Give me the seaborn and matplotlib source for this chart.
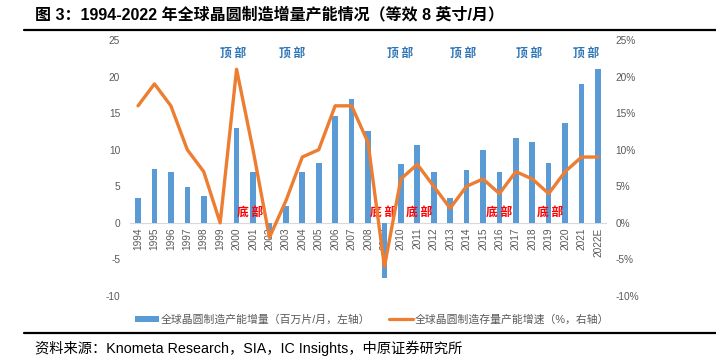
import numpy as np
import pandas as pd
import matplotlib
matplotlib.use("Agg")
import matplotlib.pyplot as plt
from matplotlib.lines import Line2D
from matplotlib.patches import Patch
import seaborn as sns

# ---------------- data ----------------
years = ['1994', '1995', '1996', '1997', '1998', '1999', '2000', '2001', '2002',
         '2003', '2004', '2005', '2006', '2007', '2008', '2009', '2010', '2011',
         '2012', '2013', '2014', '2015', '2016', '2017', '2018', '2019', '2020',
         '2021', '2022E']
capacity_increment = [3.4, 7.3, 7.0, 4.9, 3.7, 0.0, 13.0, 7.0, -1.5, 2.3, 6.9, 8.2,
                      14.6, 17.0, 12.6, -7.5, 8.1, 10.7, 6.9, 3.4, 7.2, 10.0, 6.9,
                      11.6, 11.1, 8.2, 13.7, 19.0, 21.0]
capacity_growth = [16, 19, 16, 10, 7, 0, 21, 10, -2, 3, 9, 10, 16, 16, 11, -6, 6, 8,
                   5, 2, 5, 6, 4, 7, 6, 4, 7, 9, 9]
left_ticks = [-10, -5, 0, 5, 10, 15, 20, 25]
right_ticks = [-10, -5, 0, 5, 10, 15, 20, 25]

bar_label = '全球晶圆制造产能增量（百万片/月，左轴）'
line_label = '全球晶圆制造存量产能增速（%，右轴）'
title = '图 3：1994-2022 年全球晶圆制造增量产能情况（等效 8 英寸/月）'
source = '资料来源：Knometa Research，SIA，IC Insights，中原证券研究所'
peak_text = '顶 部'
trough_text = '底 部'

# annotation anchor positions (category index, value)
peak_notes = [5.78, 9.4, 15.93, 19.8, 23.8, 27.3]
trough_notes = [6.85, 14.9, 17.1, 22.0, 25.1]

# ---------------- style ----------------
sns.set_theme(style="white")
plt.rcParams['font.family'] = ['Liberation Sans', 'Noto Sans CJK SC']
plt.rcParams['axes.unicode_minus'] = False

BLUE = '#5B9BD5'
ORANGE = '#ED7D31'
GREY = '#595959'

fig = plt.figure(figsize=(7.16, 3.56), dpi=100)
W, H = 716, 356
ax_left, ax_right, ax_top, ax_bot = 129.8, 606.2, 40.0, 296.0
ax = fig.add_axes([ax_left / W, (H - ax_bot) / H, (ax_right - ax_left) / W,
                   (ax_bot - ax_top) / H])

df = pd.DataFrame({'year': years, 'inc': capacity_increment, 'growth': capacity_growth})
df['pos'] = np.arange(len(df))

sns.barplot(data=df, x='year', y='inc', ax=ax, color=BLUE, saturation=1,
            width=0.34, linewidth=0)
ax.set_xlim(-0.5, len(years) - 0.5)
ax.set_ylim(-10, 25)
ax.set_yticks(left_ticks)
ax.set_yticklabels([str(t) for t in left_ticks])
ax.set_xlabel('')
ax.set_ylabel('')

ax2 = ax.twinx()
sns.lineplot(data=df, x='pos', y='growth', ax=ax2, color=ORANGE, linewidth=2.4,
             sort=False, solid_joinstyle='round', solid_capstyle='round')
ax2.set_ylim(-10, 25)
ax2.set_yticks(right_ticks)
ax2.set_yticklabels([f'{t}%' for t in right_ticks])
ax2.set_xlim(-0.5, len(years) - 0.5)
ax2.set_xlabel('')
ax2.set_ylabel('')

for a in (ax, ax2):
    for s in ['top', 'left', 'right']:
        a.spines[s].set_visible(False)
    a.grid(False)
    a.patch.set_visible(False)
ax2.spines['bottom'].set_visible(False)
ax.spines['bottom'].set_position(('data', 0))
ax.spines['bottom'].set_color('#D9D9D9')
ax.spines['bottom'].set_linewidth(0.8)
ax.spines['bottom'].set_zorder(0)

ax.tick_params(axis='x', length=0, pad=3.5, labelsize=7.3, labelcolor=GREY, rotation=90)
ax.tick_params(axis='y', length=0, pad=7, labelsize=7.3, labelcolor=GREY)
ax2.tick_params(axis='y', length=0, pad=6.5, labelsize=7.3, labelcolor=GREY)
for lbl in ax.get_xticklabels():
    lbl.set_va('top')

# annotations
for xp in peak_notes:
    ax.text(xp, 23.2, peak_text, color='#2E75B6', fontsize=8.5, fontweight='bold',
            ha='center', va='center', family=['Noto Sans CJK SC'])
for xp in trough_notes:
    ax.text(xp, 1.45, trough_text, color='#FF0000', fontsize=8.5, fontweight='bold',
            ha='center', va='center', family=['Noto Sans CJK SC'], zorder=5)

# legend
handles = [Patch(facecolor=BLUE, edgecolor='none', label=bar_label),
           Line2D([0], [0], color=ORANGE, linewidth=2.3, label=line_label)]
fig.legend(handles=handles, loc='center', bbox_to_anchor=(372 / W, (H - 319.5) / H),
           ncol=2, frameon=False, fontsize=7.8, handlelength=2.2, handleheight=0.45,
           handletextpad=0.15, columnspacing=1.8, labelcolor=GREY)

# title, rules, source
fig.text(35 / W, (H - 14) / H, title, fontsize=11.5, fontweight='bold',
         ha='left', va='center', color='black')
fig.add_artist(Line2D([24 / W, 1.0], [(H - 29.5) / H] * 2, color='black',
                      linewidth=1.6, transform=fig.transFigure))
fig.add_artist(Line2D([24 / W, 1.0], [(H - 332.7) / H] * 2, color='black',
                      linewidth=1.6, transform=fig.transFigure))
fig.text(35 / W, (H - 348.5) / H, source, fontsize=10.3, ha='left', va='center',
         color='black')

fig.savefig('out.png', dpi=100)
